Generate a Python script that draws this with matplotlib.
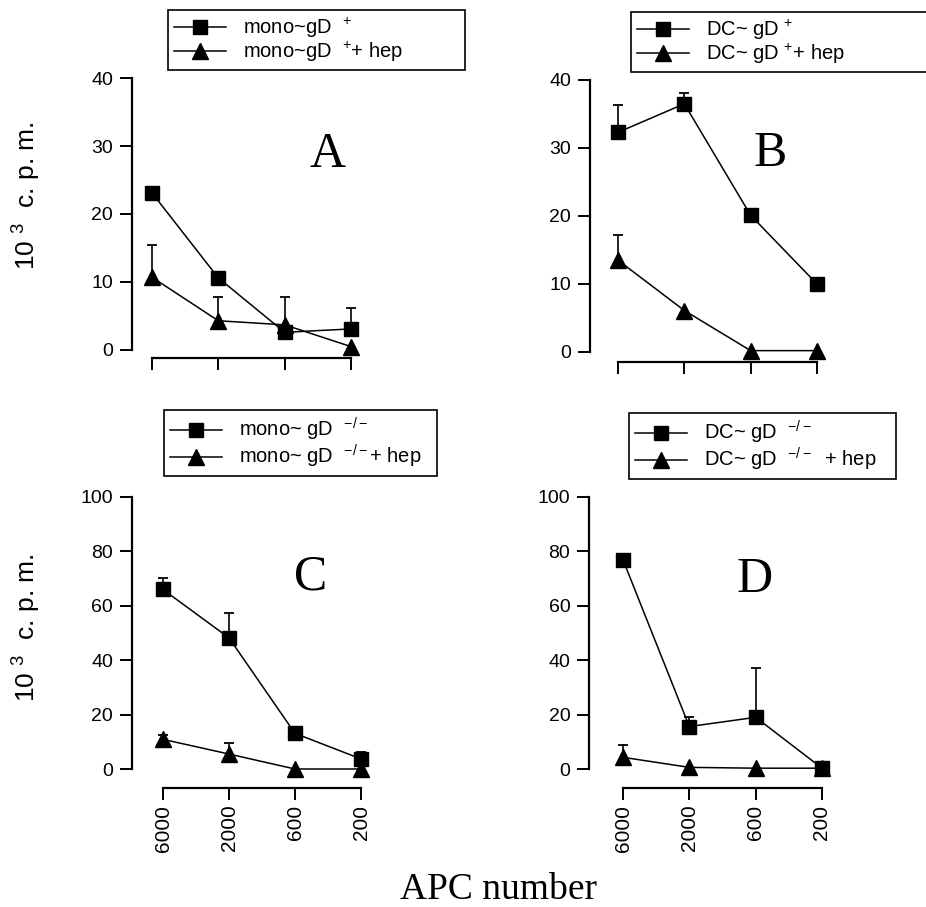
import numpy as np
import matplotlib
matplotlib.use('Agg')
import matplotlib.pyplot as plt

plt.rcParams['font.family'] = ['Liberation Sans', 'DejaVu Sans']
plt.rcParams['mathtext.fontset'] = 'custom'
plt.rcParams['mathtext.rm'] = 'Liberation Sans'
plt.rcParams['mathtext.it'] = 'Liberation Sans'
plt.rcParams['mathtext.bf'] = 'Liberation Sans'

# APC number per well
apc_labels = ['6000', '2000', '600', '200']

# Panel A: monocytes, gD+
a_sq = [23.1, 10.6, 2.6, 3.1]
a_sq_err = [0, 0, 0, 3.1]
a_tri = [10.7, 4.3, 3.7, 0.5]
a_tri_err = [4.7, 3.5, 4.1, 0]

# Panel B: DC, gD+
b_sq = [32.3, 36.5, 20.1, 10.0]
b_sq_err = [4.0, 1.6, 0, 0]
b_tri = [13.5, 6.1, 0.2, 0.2]
b_tri_err = [3.7, 0, 0, 0]

# Panel C: monocytes, gD-/-
c_sq = [66.0, 48.2, 13.1, 3.7]
c_sq_err = [4.4, 9.3, 0, 2.7]
c_tri = [10.9, 5.5, 0, 0]
c_tri_err = [1.6, 4.2, 0, 0]

# Panel D: DC, gD-/-
d_sq = [76.9, 15.6, 19.0, 0.3]
d_sq_err = [0, 3.7, 18.1, 0]
d_tri = [4.3, 0.6, 0.3, 0.3]
d_tri_err = [4.5, 0, 0, 0]

W, H = 926, 907
fig = plt.figure(figsize=(W / 100, H / 100), dpi=100)


def make_axes(x_spine, x0, x3, y0, ytop, ymax, xoff):
    unit = (x3 - x0) / 3.0
    left = -(x0 - x_spine) / unit
    right = 3.4
    ax = fig.add_axes([x_spine / W, 1 - y0 / H, (right - left) * unit / W, (y0 - ytop) / H])
    ax.set_xlim(left, right)
    ax.set_ylim(0, ymax)
    ax.patch.set_alpha(0)
    for s in ['top', 'right']:
        ax.spines[s].set_visible(False)
    ax.spines['left'].set_linewidth(1.6)
    ax.spines['bottom'].set_linewidth(1.6)
    ax.spines['bottom'].set_position(('outward', xoff * 0.72))
    ax.spines['bottom'].set_bounds(0, 3)
    ax.tick_params(axis='both', direction='out', length=8.5, width=1.4, labelsize=14)
    ax.tick_params(axis='y', pad=5)
    ax.set_xticks(range(4))
    return ax


def upper_err(ax, y, err):
    # one-sided error bars: stem up from the mean, cap on top only
    for i in range(4):
        if err[i] > 0:
            ax.vlines(i, y[i], y[i] + err[i], color='black', lw=1.2, zorder=2)
            ax.plot(i, y[i] + err[i], marker='_', ms=7, mew=1.3, color='black', zorder=2)


def draw(ax, sq, sq_err, tri, tri_err, lab_sq, lab_tri, letter, lx, ly, legbox):
    x = np.arange(4)
    upper_err(ax, sq, sq_err)
    upper_err(ax, tri, tri_err)
    ax.plot(x, sq, color='black', lw=1.1, marker='s', ms=10.5, clip_on=False,
            zorder=3, label=lab_sq)
    ax.plot(x, tri, color='black', lw=1.1, marker='^', ms=11.5, clip_on=False,
            zorder=3, label=lab_tri)
    ax.text(lx, ly, letter, family='Liberation Serif', fontsize=36,
            ha='center', va='center')
    bx0, by0, bx1, by1 = legbox
    leg = ax.legend(loc='upper left', mode='expand',
                    bbox_to_anchor=(bx0 / W, 1 - by1 / H, (bx1 - bx0) / W, (by1 - by0) / H),
                    bbox_transform=fig.transFigure, borderaxespad=0, fontsize=14.5,
                    handlelength=2.6, handletextpad=0.8, labelspacing=0.0,
                    borderpad=0.3, fancybox=False, edgecolor='black', framealpha=1)
    leg.get_frame().set_linewidth(1.2)


axA = make_axes(132, 152, 351, 350, 78, 40, 8)
axA.set_yticks([0, 10, 20, 30, 40])
axA.set_xticklabels([])
draw(axA, a_sq, a_sq_err, a_tri, a_tri_err,
     'mono~gD  $^{+}$', 'mono~gD  $^{+}$+ hep', 'A', 2.65, 28.7, (168, 10, 465, 72))

axB = make_axes(590, 618, 817, 352, 80, 40, 10)
axB.set_yticks([0, 10, 20, 30, 40])
axB.set_xticklabels([])
draw(axB, b_sq, b_sq_err, b_tri, b_tri_err,
     'DC~ gD $^{+}$', 'DC~ gD $^{+}$+ hep', 'B', 2.29, 29.1, (631, 12, 935, 74))

axC = make_axes(132, 163, 361, 769, 497, 100, 19)
axC.set_yticks([0, 20, 40, 60, 80, 100])
axC.set_xticklabels(apc_labels, rotation=90, fontsize=15)
draw(axC, c_sq, c_sq_err, c_tri, c_tri_err,
     'mono~ gD  $^{-/-}$', 'mono~ gD  $^{-/-}$+ hep', 'C', 2.23, 70.6, (164, 410, 437, 474))

axD = make_axes(589, 623, 822, 769, 497, 100, 19)
axD.set_yticks([0, 20, 40, 60, 80, 100])
axD.set_xticklabels(apc_labels, rotation=90, fontsize=15)
draw(axD, d_sq, d_sq_err, d_tri, d_tri_err,
     'DC~ gD  $^{-/-}$', 'DC~ gD  $^{-/-}$  + hep', 'D', 1.99, 69.5, (629, 413, 896, 476))

ylab = '10 $^{3}$  c. p. m.'
fig.text(27 / W, 1 - 196 / H, ylab, rotation=90, fontsize=19, ha='center', va='center')
fig.text(27 / W, 1 - 628 / H, ylab, rotation=90, fontsize=19, ha='center', va='center')
fig.text(499 / W, 1 - 899 / H, 'APC number', family='Liberation Serif', fontsize=27,
         ha='center', va='baseline')

fig.savefig('out.png', dpi=100)
